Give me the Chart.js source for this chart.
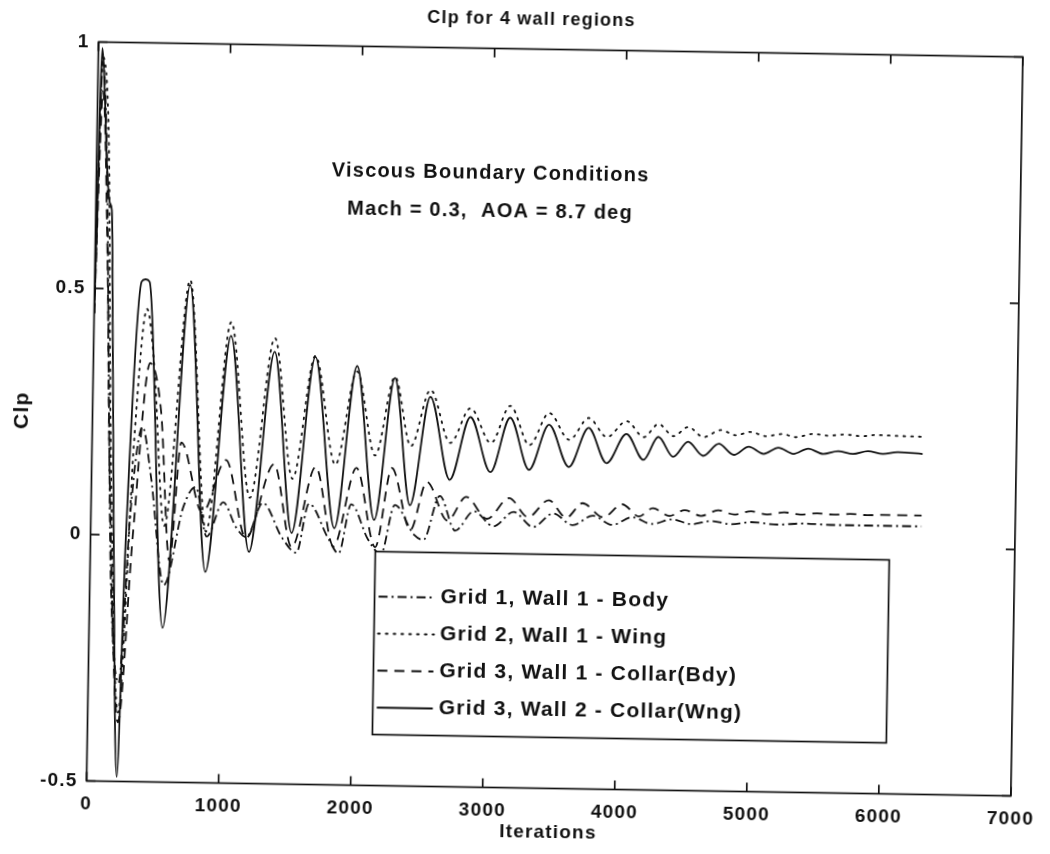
<!DOCTYPE html>
<html lang="en">
<head>
<meta charset="UTF-8">
<title>Clp for 4 wall regions</title>
<style>
    body {
        margin: 0;
        background: #fff;
    }
    #wrap {
        width: 1050px;
        height: 854px;
        transform: rotate(0.93deg);
        transform-origin: 557.5px 419px;
    }
</style>
<script src="https://cdn.jsdelivr.net/npm/chart.js"></script>
</head>
<body>
<div id="wrap"><canvas id="clp-chart" width="1050" height="854"></canvas></div>
<script>
// Grid 1, Wall 1 - Body
const iterBody = [0, 35, 80, 120, 160, 230, 300, 380, 450, 560, 700, 790, 880, 1000, 1100, 1180, 1300, 1450, 1560, 1650, 1800, 1880, 1970, 2100, 2200, 2300, 2450, 2520, 2640, 2760, 2900, 3050, 3200, 3350, 3500, 3650, 3800, 3950, 4100, 4250, 4400, 4550, 4700, 4850, 5000, 5200, 5400, 5600, 6290];
const clpBody = [0.45, 0.96, 0.75, 0.3, -0.1, -0.3, 0.05, 0.22, 0.12, -0.1, 0.06, 0.1, 0.0, 0.07, 0.02, 0.0, 0.07, 0.0, -0.03, 0.07, 0.0, -0.03, 0.07, 0.0, -0.03, 0.07, 0.01, 0.0, 0.09, 0.02, 0.06, 0.03, 0.06, 0.03, 0.058, 0.035, 0.055, 0.037, 0.053, 0.04, 0.05, 0.041, 0.048, 0.042, 0.047, 0.043, 0.046, 0.044, 0.044];

// Grid 2, Wall 1 - Wing
const iterWing = [0, 35, 90, 140, 230, 320, 400, 460, 556, 724, 873, 1040, 1201, 1372, 1522, 1681, 1845, 1998, 2145, 2286, 2414, 2557, 2712, 2862, 3020, 3163, 3312, 3458, 3613, 3758, 3898, 4045, 4177, 4287, 4402, 4513, 4628, 4760, 4873, 4986, 5099, 5227, 5325, 5460, 5573, 5700, 5828, 5941, 6077, 6290];
const clpWing = [0.45, 0.97, 0.8, 0.2, -0.36, 0.2, 0.46, 0.35, 0.02, 0.52, 0.01, 0.436, 0.08, 0.405, 0.12, 0.37, 0.15, 0.34, 0.17, 0.33, 0.19, 0.305, 0.198, 0.269, 0.199, 0.275, 0.196, 0.262, 0.208, 0.253, 0.215, 0.248, 0.216, 0.243, 0.219, 0.238, 0.218, 0.233, 0.223, 0.230, 0.222, 0.227, 0.221, 0.228, 0.225, 0.228, 0.225, 0.228, 0.227, 0.226];

// Grid 3, Wall 1 - Collar(Bdy)
const iterBdy = [0, 40, 90, 140, 230, 320, 430, 520, 600, 676, 843, 1017, 1177, 1381, 1524, 1697, 1840, 2006, 2156, 2274, 2420, 2540, 2700, 2840, 3000, 3164, 3310, 3465, 3600, 3721, 3880, 4022, 4150, 4255, 4380, 4496, 4620, 4750, 4870, 5000, 5120, 5250, 5370, 5500, 5620, 5750, 5880, 6000, 6290];
const clpBdy = [0.45, 0.9, 0.6, 0.1, -0.38, 0.0, 0.35, 0.25, -0.05, 0.19, 0.048, 0.156, -0.002, 0.149, -0.019, 0.145, -0.016, 0.144, -0.016, 0.145, 0.02, 0.118, 0.04, 0.089, 0.045, 0.088, 0.05, 0.085, 0.05, 0.08, 0.052, 0.079, 0.055, 0.072, 0.057, 0.069, 0.058, 0.070, 0.062, 0.069, 0.063, 0.068, 0.064, 0.067, 0.065, 0.067, 0.065, 0.066, 0.066];

// Grid 3, Wall 2 - Collar(Wng)
const iterWng = [0, 30, 55, 78, 105, 121, 143, 178, 228, 265, 356, 386, 416, 556, 724, 873, 1040, 1201, 1372, 1522, 1681, 1845, 1998, 2145, 2286, 2414, 2557, 2712, 2862, 3020, 3163, 3312, 3458, 3613, 3758, 3898, 4045, 4177, 4287, 4402, 4513, 4628, 4746, 4861, 4973, 5086, 5198, 5312, 5424, 5537, 5650, 5763, 5876, 5989, 6102, 6290];
const clpWng = [0.45, 0.988, 0.889, 0.755, 0.674, 0.66, 0.416, -0.031, -0.491, -0.03, 0.515, 0.52, 0.515, -0.187, 0.51, -0.072, 0.408, -0.030, 0.377, 0.010, 0.368, 0.021, 0.351, 0.039, 0.328, 0.070, 0.291, 0.123, 0.251, 0.140, 0.251, 0.146, 0.238, 0.153, 0.233, 0.162, 0.222, 0.170, 0.217, 0.177, 0.208, 0.180, 0.205, 0.183, 0.200, 0.186, 0.199, 0.187, 0.198, 0.188, 0.194, 0.189, 0.195, 0.190, 0.194, 0.191];

const xTicks = [0, 1000, 2000, 3000, 4000, 5000, 6000, 7000];
const yTicks = [-0.5, 0, 0.5, 1];
const chartTitle = 'Clp for 4 wall regions';
const noteLines = ['Viscous Boundary Conditions', 'Mach = 0.3,  AOA = 8.7 deg'];

const FONT = '"Liberation Sans", Arial, sans-serif';
const INK = '#111';

function toPoints(xs, ys) {
    return xs.map((v, i) => ({ x: v, y: ys[i] }));
}

// title, inward tick marks and the closed box round the plot
const frameTicks = {
    id: 'frameTicks',
    beforeDraw(chart) {
        chart.ctx.letterSpacing = '1.2px';
    },
    afterDatasetsDraw(chart) {
        const { ctx, chartArea: a, scales: { x, y } } = chart;
        ctx.save();
        ctx.strokeStyle = INK;
        ctx.lineWidth = 1.7;
        ctx.strokeRect(a.left, a.top, a.right - a.left, a.bottom - a.top);
        ctx.beginPath();
        xTicks.forEach(v => {
            const px = x.getPixelForValue(v);
            ctx.moveTo(px, a.bottom); ctx.lineTo(px, a.bottom - 9);
            ctx.moveTo(px, a.top); ctx.lineTo(px, a.top + 9);
        });
        yTicks.forEach(v => {
            const py = y.getPixelForValue(v);
            ctx.moveTo(a.left, py); ctx.lineTo(a.left + 9, py);
            ctx.moveTo(a.right, py); ctx.lineTo(a.right - 9, py);
        });
        ctx.stroke();

        ctx.fillStyle = INK;
        ctx.textAlign = 'center';
        ctx.textBaseline = 'middle';
        ctx.font = 'bold 18px ' + FONT;
        ctx.fillText(chartTitle, chart.width / 2, 20);

        // text note in the upper middle
        ctx.font = 'bold 20px ' + FONT;
        ctx.fillText(noteLines[0], x.getPixelForValue(2985), y.getPixelForValue(0.747));
        ctx.fillText(noteLines[1], x.getPixelForValue(2985), y.getPixelForValue(0.670));
        ctx.restore();
    }
};

// boxed legend inside the plot, line samples on the left
const boxLegend = {
    id: 'boxLegend',
    afterDraw(chart) {
        const { ctx, chartArea: a } = chart;
        const left = a.left + 285, top = a.top + 505;
        const w = 514, h = 183;
        ctx.save();
        ctx.fillStyle = '#fff';
        ctx.fillRect(left, top, w, h);
        ctx.strokeStyle = INK;
        ctx.lineWidth = 1.7;
        ctx.strokeRect(left, top, w, h);
        ctx.font = 'bold 21px ' + FONT;
        ctx.textBaseline = 'middle';
        ctx.textAlign = 'left';
        ctx.fillStyle = INK;
        chart.data.datasets.forEach((ds, i) => {
            const cy = top + 45 + i * 37;
            ctx.beginPath();
            ctx.setLineDash(ds.borderDash || []);
            ctx.lineCap = ds.borderCapStyle || 'butt';
            ctx.lineWidth = ds.borderWidth;
            ctx.moveTo(left + 4, cy);
            ctx.lineTo(left + 60, cy);
            ctx.stroke();
            ctx.setLineDash([]);
            ctx.fillText(ds.label, left + 66, cy);
        });
        ctx.restore();
    }
};

const ctx = document.getElementById('clp-chart').getContext('2d');
new Chart(ctx, {
    type: 'line',
    data: {
        datasets: [
            { label: 'Grid 1, Wall 1 - Body', data: toPoints(iterBody, clpBody), borderDash: [9, 4, 2, 4] },
            { label: 'Grid 2, Wall 1 - Wing', data: toPoints(iterWing, clpWing), borderDash: [1.8, 6], borderCapStyle: 'round' },
            { label: 'Grid 3, Wall 1 - Collar(Bdy)', data: toPoints(iterBdy, clpBdy), borderDash: [10, 7] },
            { label: 'Grid 3, Wall 2 - Collar(Wng)', data: toPoints(iterWng, clpWng) }
        ].map(ds => Object.assign({
            borderColor: INK,
            borderWidth: 1.8,
            pointRadius: 0,
            fill: false,
            cubicInterpolationMode: 'monotone'
        }, ds))
    },
    options: {
        responsive: false,
        devicePixelRatio: 1,
        animation: false,
        layout: { padding: { top: 49.5, right: 27, bottom: 0, left: 0 } },
        plugins: {
            legend: { display: false },
            tooltip: { enabled: false },
            title: { display: false }
        },
        scales: {
            x: {
                type: 'linear',
                min: 0,
                max: 7000,
                afterFit(scale) { scale.height = 65.5; },
                afterBuildTicks(scale) { scale.ticks = xTicks.map(v => ({ value: v })); },
                grid: { display: false, drawTicks: false },
                border: { display: false },
                ticks: { color: INK, padding: 12, maxRotation: 0, autoSkip: false, font: { family: FONT, size: 19, weight: 'bold' }, callback: v => String(v) },
                title: { display: true, text: 'Iterations', color: INK, padding: { top: 0, bottom: 10 }, font: { family: FONT, size: 19, weight: 'bold' } }
            },
            y: {
                type: 'linear',
                min: -0.5,
                max: 1,
                afterFit(scale) { scale.width = 92.5; },
                afterBuildTicks(scale) { scale.ticks = yTicks.map(v => ({ value: v })); },
                grid: { display: false, drawTicks: false },
                border: { display: false },
                ticks: { color: INK, padding: 9, font: { family: FONT, size: 19, weight: 'bold' }, callback: v => String(v) },
                title: { display: true, text: 'Clp', color: INK, padding: { top: 10, bottom: 0 }, font: { family: FONT, size: 21, weight: 'bold' } }
            }
        }
    },
    plugins: [frameTicks, boxLegend]
});
</script>
</body>
</html>
